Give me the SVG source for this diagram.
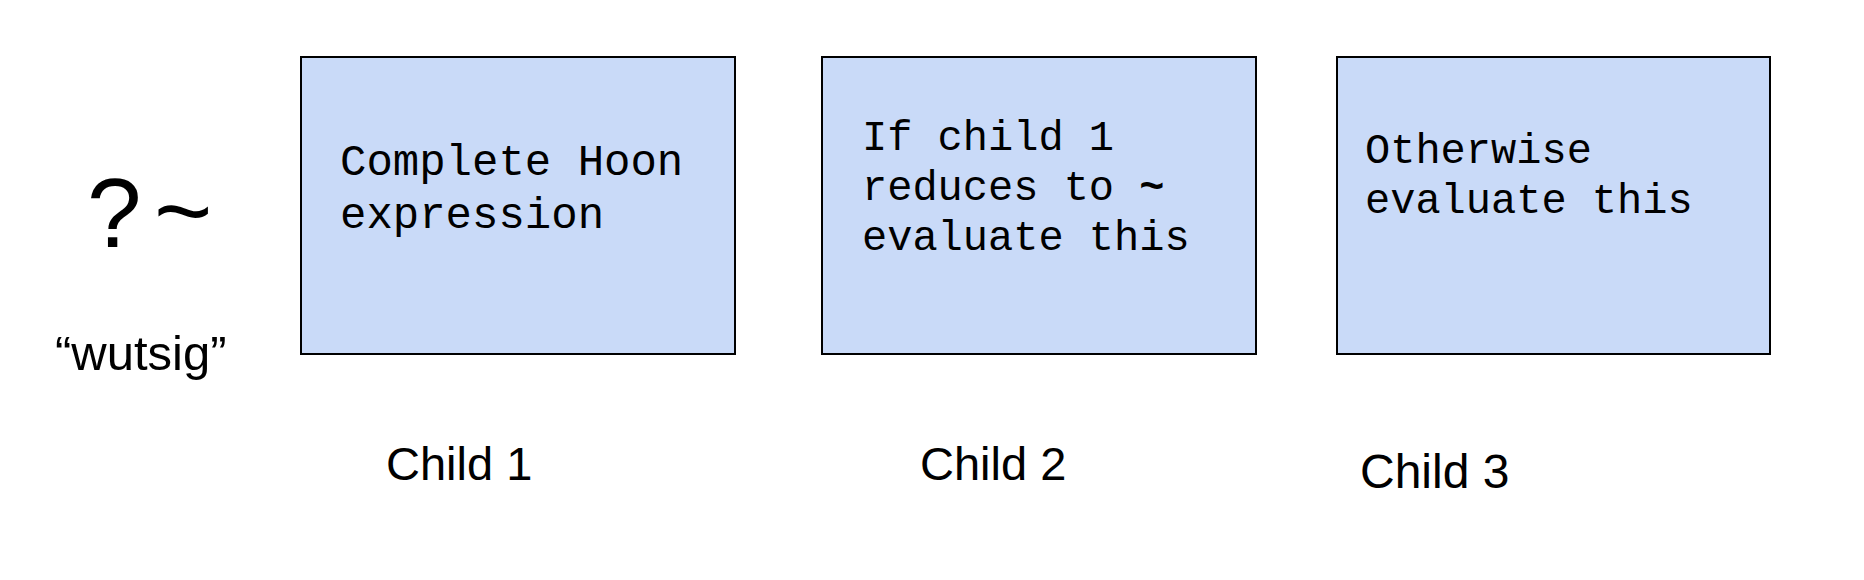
<svg xmlns="http://www.w3.org/2000/svg" width="1864" height="580" viewBox="0 0 1864 580">
<style>
.box{fill:#c9daf8;stroke:#000;stroke-width:2}
.mono{font-family:"Liberation Mono","Courier New",monospace;fill:#000}
.sans{font-family:"Liberation Sans",Arial,sans-serif;fill:#000}
</style>
<rect width="1864" height="580" fill="#fff"/>
<g id="title">
<text class="sans" x="87" y="247" font-size="98">?</text>
<text class="sans" x="154" y="245" font-size="100">~</text>
<text class="sans" x="55" y="370" font-size="49">“wutsig”</text>
</g>
<g id="child1">
<rect class="box" x="301" y="57" width="434" height="297"/>
<text class="mono" font-size="44"><tspan x="340" y="175">Complete Hoon</tspan><tspan x="340" y="228">expression</tspan></text>
<text class="sans" x="386" y="480" font-size="47">Child 1</text>
</g>
<g id="child2">
<rect class="box" x="822" y="57" width="434" height="297"/>
<text class="mono" font-size="42"><tspan x="862" y="150">If child 1</tspan><tspan x="862" y="200">reduces to <tspan font-weight="bold">~</tspan></tspan><tspan x="862" y="250">evaluate this</tspan></text>
<text class="sans" x="920" y="480" font-size="47">Child 2</text>
</g>
<g id="child3">
<rect class="box" x="1337" y="57" width="433" height="297"/>
<text class="mono" font-size="42"><tspan x="1365" y="163">Otherwise</tspan><tspan x="1365" y="213">evaluate this</tspan></text>
<text class="sans" x="1360" y="488" font-size="48">Child 3</text>
</g>
<g id="connectors"/>
</svg>
